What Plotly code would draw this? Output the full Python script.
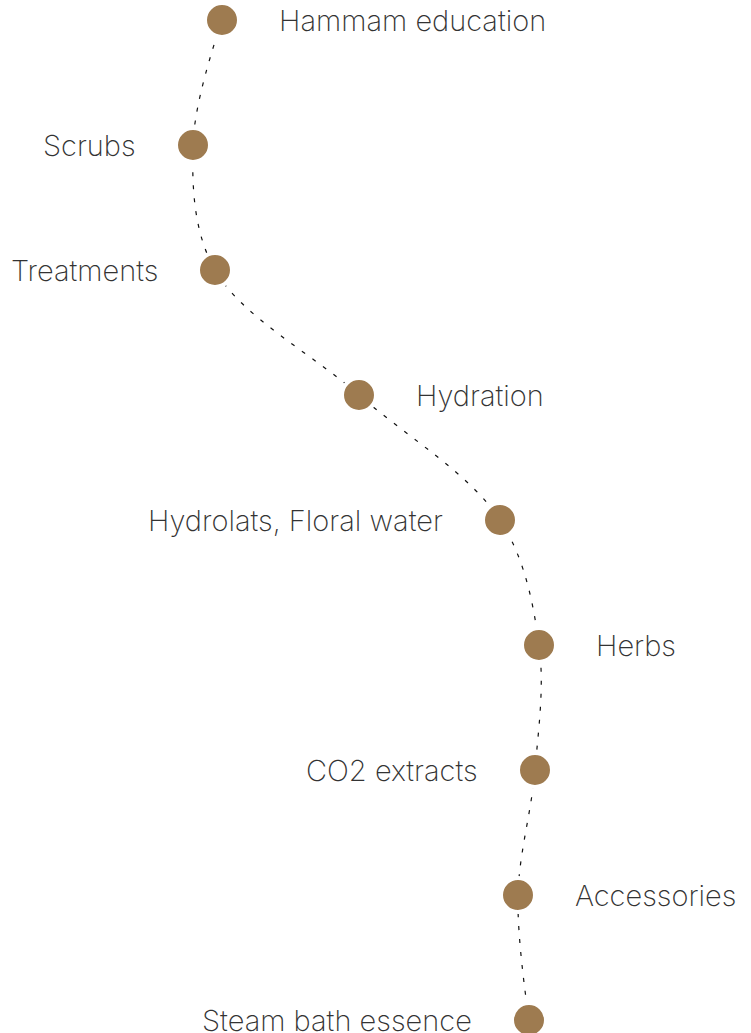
import plotly.graph_objects as go

labels = ["Hammam education", "Scrubs", "Treatments", "Hydration",
          "Hydrolats, Floral water", "Herbs", "CO2 extracts", "Accessories",
          "Steam bath essence"]
xpos = [222, 193, 215, 359, 500, 539, 535, 518, 529]
step = list(range(len(labels)))
side = ["right", "left", "left", "right", "left", "right", "left", "right", "left"]

W, H = 751, 1033
STEP_PX = 125    # vertical spacing between steps
TOP_PX = 20      # page y of first step

fig = go.Figure()
fig.add_trace(go.Scatter(
    x=xpos, y=step, mode="lines",
    line=dict(color="#111111", width=1.2, dash="4px,9px", shape="spline", smoothing=1.0),
    hoverinfo="skip", showlegend=False))
fig.add_trace(go.Scatter(
    x=xpos, y=step, mode="markers",
    marker=dict(size=34, color="#9e7b50", line=dict(color="white", width=4)),
    cliponaxis=False, showlegend=False, text=labels, hoverinfo="text"))

for xv, yv, lab, s in zip(xpos, step, labels, side):
    fig.add_annotation(
        x=xv, y=yv, text=lab, showarrow=False,
        xanchor="left" if s == "right" else "right", yanchor="middle",
        xshift=55 if s == "right" else -55,
        font=dict(family="Inter", size=29, color="#333333", weight=200))

top_val = -TOP_PX / STEP_PX
bot_val = top_val + H / STEP_PX
fig.update_layout(
    width=W, height=H, margin=dict(l=0, r=0, t=0, b=0),
    paper_bgcolor="white", plot_bgcolor="white",
    xaxis=dict(range=[0, W], visible=False, fixedrange=True),
    yaxis=dict(range=[bot_val, top_val], visible=False, fixedrange=True),
)
fig.write_html("out.html", config={"displayModeBar": False},
               post_script="document.body.style.margin='0';document.body.style.overflow='hidden';")
